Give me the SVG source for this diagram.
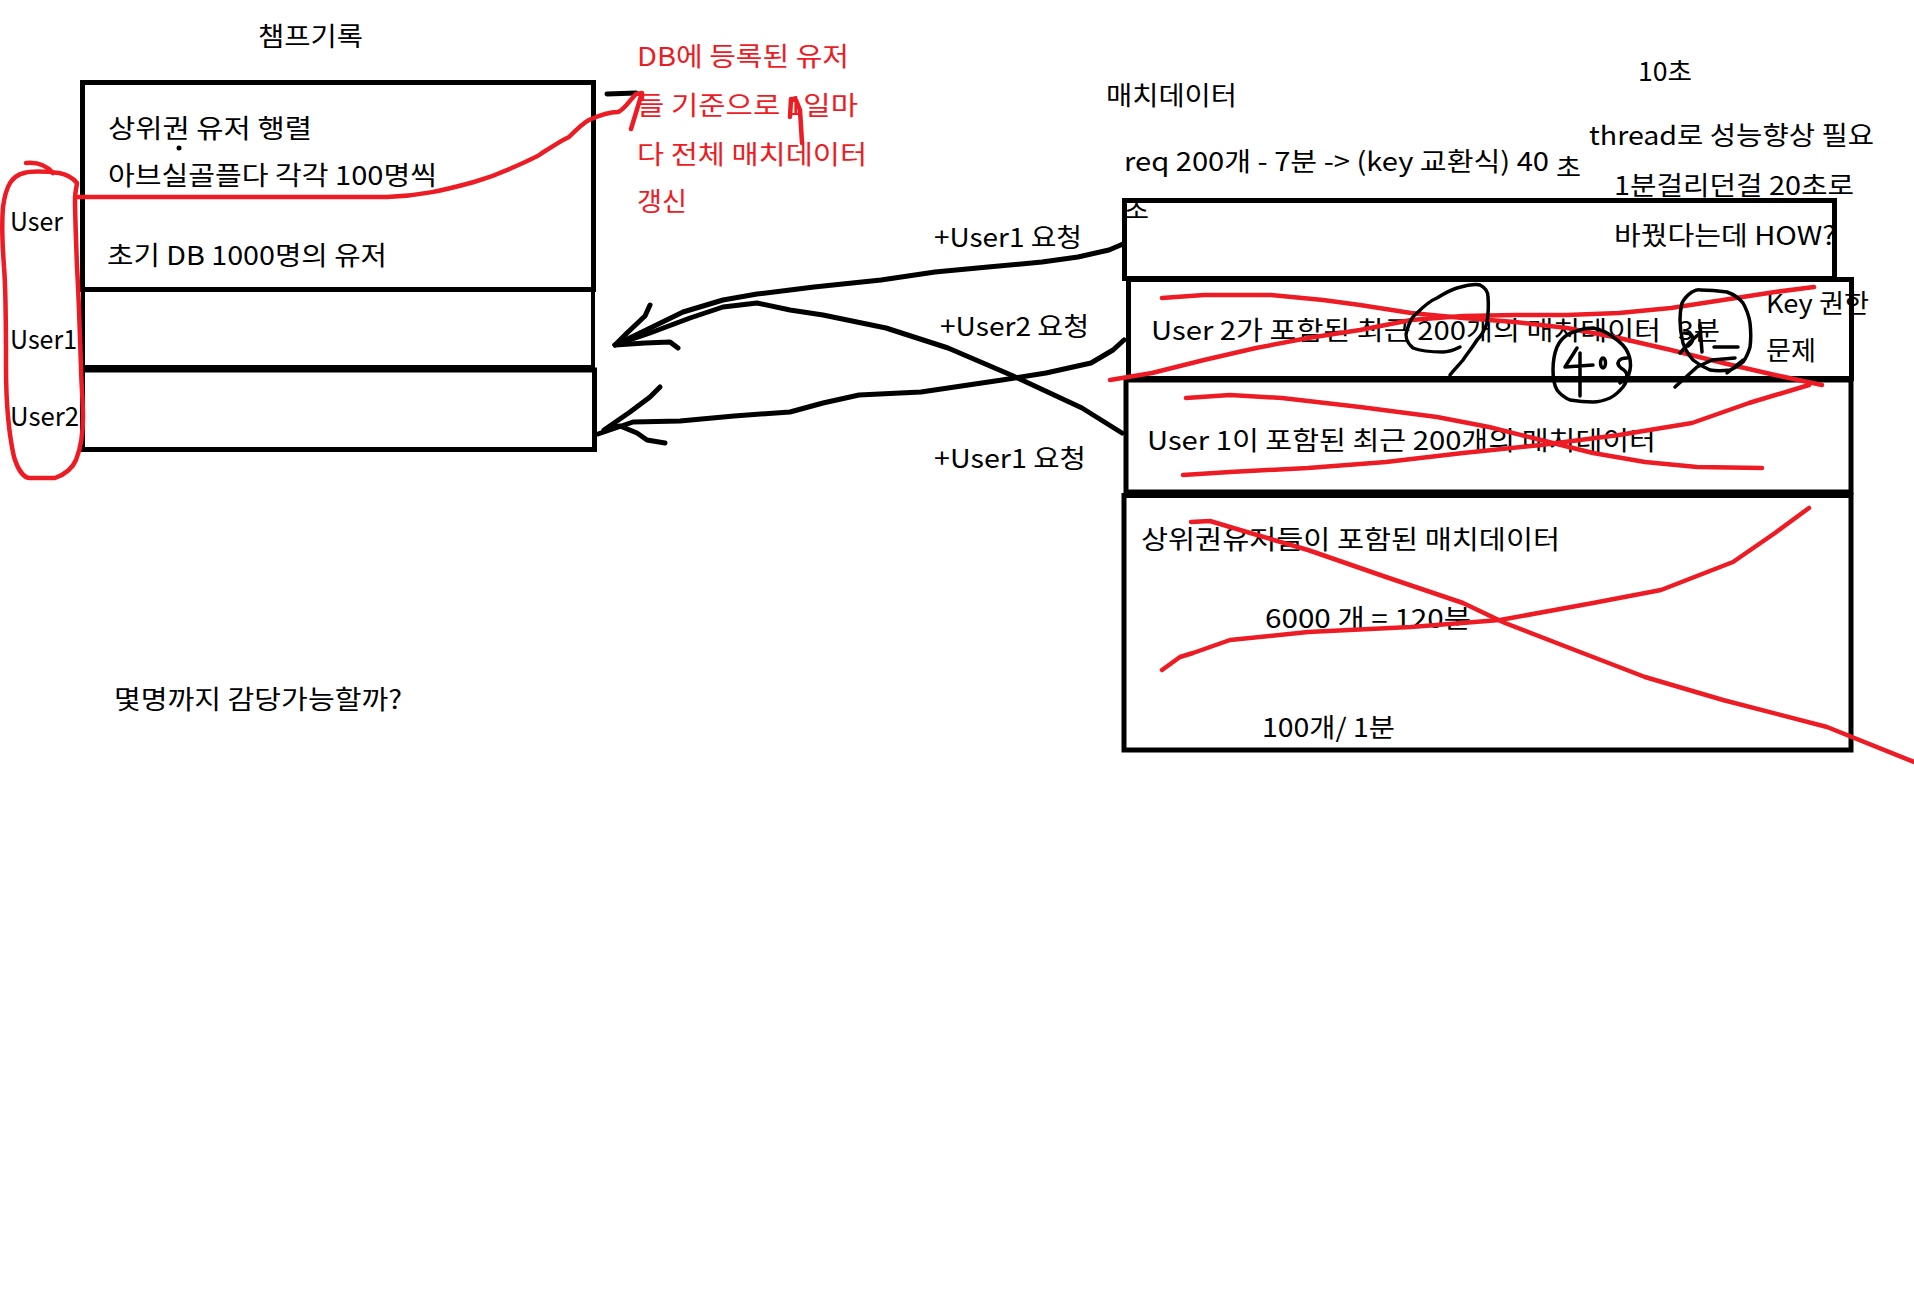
<svg xmlns="http://www.w3.org/2000/svg" width="1914" height="1290" viewBox="0 0 1914 1290">
  <style>
    .t { font-family: "Noto Sans CJK KR", "Noto Sans", "Liberation Sans", sans-serif; font-size: 26px; fill: #000; }
    .r { fill: #ed1c24; }
    .box { fill: none; stroke: #000; stroke-width: 5; }
    .ink { fill: none; stroke: #000; stroke-width: 5; stroke-linecap: round; stroke-linejoin: round; }
    .thin { fill: none; stroke: #000; stroke-width: 3.5; stroke-linecap: round; stroke-linejoin: round; }
    .pen { fill: none; stroke: #ed1c24; stroke-width: 4.5; stroke-linecap: round; stroke-linejoin: round; }
  </style>
  <rect width="1914" height="1290" fill="#fff"/>

  <!-- free notes -->
  <g id="notes">
    <text class="t" x="258" y="46" textLength="105" lengthAdjust="spacingAndGlyphs">챔프기록</text>
    <text class="t r" x="637" y="66" textLength="212" lengthAdjust="spacingAndGlyphs">DB에 등록된 유저</text>
    <text class="t r" x="637" y="115" textLength="221" lengthAdjust="spacingAndGlyphs">들 기준으로 1일마</text>
    <text class="t r" x="637" y="164" textLength="230" lengthAdjust="spacingAndGlyphs">다 전체 매치데이터</text>
    <text class="t r" x="637" y="211" textLength="50" lengthAdjust="spacingAndGlyphs">갱신</text>
    <text class="t" x="1106" y="105" textLength="131" lengthAdjust="spacingAndGlyphs">매치데이터</text>
    <text class="t" x="1124" y="171" textLength="425" lengthAdjust="spacingAndGlyphs">req 200개 - 7분 -&gt; (key 교환식) 40</text>
    <text class="t" x="1556" y="177" textLength="25" lengthAdjust="spacingAndGlyphs">초</text>
    <text class="t" x="1124" y="219" textLength="25" lengthAdjust="spacingAndGlyphs">초</text>
    <text class="t" x="1638" y="81" textLength="54" lengthAdjust="spacingAndGlyphs">10초</text>
    <text class="t" x="1589" y="145" textLength="285" lengthAdjust="spacingAndGlyphs">thread로 성능향상 필요</text>
    <text class="t" x="1614" y="195" textLength="240" lengthAdjust="spacingAndGlyphs">1분걸리던걸 20초로</text>
    <text class="t" x="1614" y="245" textLength="222" lengthAdjust="spacingAndGlyphs">바꿨다는데 HOW?</text>
    <text class="t" x="114" y="709" textLength="288" lengthAdjust="spacingAndGlyphs">몇명까지 감당가능할까?</text>
  </g>

  <!-- user labels beside the record table -->
  <g id="user-labels">
    <text class="t" x="10" y="231" textLength="53" lengthAdjust="spacingAndGlyphs">User</text>
    <text class="t" x="10" y="349" textLength="67" lengthAdjust="spacingAndGlyphs">User1</text>
    <text class="t" x="10" y="426" textLength="69" lengthAdjust="spacingAndGlyphs">User2</text>
  </g>

  <!-- champion record table -->
  <g id="champ-records">
    <rect class="box" x="82.5" y="82.5" width="511" height="207"/>
    <text class="t" x="108" y="138" textLength="204" lengthAdjust="spacingAndGlyphs">상위권 유저 행렬</text>
    <text class="t" x="108" y="185" textLength="329" lengthAdjust="spacingAndGlyphs">아브실골플다 각각 100명씩</text>
    <circle cx="179" cy="148" r="2.5" fill="#000"/>
    <text class="t" x="107" y="265" textLength="280" lengthAdjust="spacingAndGlyphs">초기 DB 1000명의 유저</text>
  </g>
  <g id="champ-row-user1">
    <rect x="83" y="290" width="510" height="77" fill="none" stroke="#000" stroke-width="4"/>
  </g>
  <g id="champ-row-user2">
    <rect class="box" x="82.5" y="370" width="512" height="79.5"/>
  </g>

  <!-- match data rows -->
  <g id="match-top">
    <rect class="box" x="1124.5" y="200.5" width="710" height="78"/>
  </g>
  <g id="match-user2">
    <rect class="box" x="1128.5" y="279.5" width="723" height="99"/>
    <text class="t" x="1151" y="340" textLength="510" lengthAdjust="spacingAndGlyphs">User 2가 포함된 최근 200개의 매치데이터</text>
    <text class="t" x="1678" y="340" textLength="42" lengthAdjust="spacingAndGlyphs">3분</text>
    <text class="t" x="1766" y="313" textLength="103" lengthAdjust="spacingAndGlyphs">Key 권한</text>
    <text class="t" x="1766" y="360" textLength="50" lengthAdjust="spacingAndGlyphs">문제</text>
  </g>
  <g id="match-user1">
    <rect class="box" x="1126" y="380" width="725" height="112"/>
    <text class="t" x="1147" y="450" textLength="509" lengthAdjust="spacingAndGlyphs">User 1이 포함된 최근 200개의 매치데이터</text>
  </g>
  <g id="match-top-users">
    <rect class="box" x="1124" y="495.5" width="727" height="254.5"/>
    <text class="t" x="1141" y="549" textLength="419" lengthAdjust="spacingAndGlyphs">상위권유저들이 포함된 매치데이터</text>
    <text class="t" x="1265" y="628" textLength="206" lengthAdjust="spacingAndGlyphs">6000 개 = 120분</text>
    <text class="t" x="1262" y="737" textLength="133" lengthAdjust="spacingAndGlyphs">100개/ 1분</text>
  </g>

  <!-- request arrows from match data back to the record rows -->
  <g id="connectors">
    <path class="ink" d="M1123,244 L1109,250 L1078,257 L1042,262 L988,267 L935,272 L881,280 L814,287 L790,290 L757,294 L723,300 L683,312 L640,333 L615,345"/>
    <path class="ink" d="M1122,433 L1082,408 L1011,375 L948,348 L886,328 L823,315 L790,310 L757,303 L723,307 L690,318 L650,333 L615,345"/>
    <path class="ink" d="M650,305 L645,316 L627,333 L615,345 L645,343 L670,342 L678,348"/>
    <path class="ink" d="M1124,340 L1113,350 L1091,363 L1046,373 L1002,380 L921,392 L859,395 L823,403 L790,412 L734,416 L680,421 L633,422 L598,434"/>
    <path class="ink" d="M660,387 L650,397 L630,412 L604,430 L620,426 L637,433 L647,440 L665,443"/>
    <path class="ink" d="M607,94 L636,93"/>
    <text class="t" x="934" y="247" textLength="148" lengthAdjust="spacingAndGlyphs">+User1 요청</text>
    <text class="t" x="940" y="336" textLength="149" lengthAdjust="spacingAndGlyphs">+User2 요청</text>
    <text class="t" x="934" y="468" textLength="152" lengthAdjust="spacingAndGlyphs">+User1 요청</text>
  </g>

  <!-- red pen marks -->
  <g id="red-marks">
    <path class="pen" d="M26,163 C36,162 46,165 53,173"/>
    <path class="pen" d="M59,173 C45,171 30,171 24,173 C12,176 6,185 3,207 C1,230 3,250 4,267 C6,290 6,330 6,367 C6,400 8,430 14,457 C18,470 24,478 30,478 L55,478 C66,474 73,467 76,460 C82,445 83,430 83,417 C83,400 81,380 81,367 C80,340 79,300 77,267 C76,240 75,210 75,200 C75,190 77,186 77,183 C72,177 65,174 59,173"/>
    <path class="pen" d="M75,197 L387,197 C420,196 445,190 474,182 C495,176 505,171 514,167 C530,160 540,155 542,153 C555,145 562,140 569,137 C578,128 583,123 589,120 C600,115 612,112 618,112 C624,110 630,100 636,94 L642,93 L631,129"/>
    <path class="pen" d="M790,117 L791,99 L796,100 L800,110 L802,143"/>
    <path class="pen" d="M1162,298 L1204,295 L1271,295 L1323,300 L1360,305 L1411,313 L1463,318 L1515,322 L1567,328 L1619,338 L1671,350 L1723,363 L1775,375 L1822,385"/>
    <path class="pen" d="M1110,380 L1152,373 L1204,360 L1256,348 L1308,338 L1360,330 L1411,320 L1463,316 L1515,315 L1567,315 L1619,313 L1671,308 L1723,300 L1775,292 L1814,287"/>
    <path class="pen" d="M1186,398 L1230,395 L1282,398 L1360,407 L1437,417 L1489,427 L1541,440 L1593,453 L1645,462 L1697,467 L1762,468"/>
    <path class="pen" d="M1183,475 L1230,472 L1308,468 L1386,462 L1463,453 L1541,445 L1619,435 L1692,423 L1749,403 L1809,385"/>
    <path class="pen" d="M1191,522 L1210,521 L1230,527 L1308,550 L1386,577 L1463,603 L1505,623 L1567,647 L1645,677 L1723,700 L1827,727 L1914,762"/>
    <path class="pen" d="M1162,670 L1180,657 L1193,653 L1230,640 L1308,632 L1411,627 L1500,620 L1593,603 L1661,590 L1733,562 L1775,533 L1809,508"/>
  </g>

  <!-- black pen marks -->
  <g id="black-marks">
    <path class="thin" d="M1460,347 C1450,352 1443,352 1443,352 C1430,352 1418,350 1413,348 C1406,342 1405,335 1407,330 C1410,320 1414,315 1417,313 C1425,305 1432,300 1437,298 C1445,293 1450,290 1457,288 C1468,285 1476,284 1480,285 C1486,288 1488,292 1488,297 C1489,308 1488,316 1487,323 C1484,332 1481,336 1477,340 C1472,348 1467,354 1463,360 C1458,366 1454,370 1450,375"/>
    <path class="thin" d="M1580,330 C1585,328 1590,328 1593,328 C1603,330 1608,333 1613,337 C1622,343 1626,348 1628,353 C1631,360 1631,365 1630,370 C1628,378 1626,383 1623,387 C1618,393 1614,396 1610,398 C1603,401 1598,402 1593,402 C1584,402 1576,401 1570,400 C1563,397 1560,394 1557,390 C1553,383 1553,376 1553,370 C1553,360 1555,352 1557,347 C1560,340 1564,337 1567,335 C1572,332 1576,331 1580,330"/>
    <path class="thin" d="M1577,348 L1565,367 L1593,365 M1580,353 L1580,396"/>
    <ellipse class="thin" cx="1603" cy="363" rx="2.5" ry="5"/>
    <path class="thin" d="M1627,358 C1619,358 1615,363 1621,368 C1628,372 1630,378 1620,383"/>
    <path class="thin" d="M1692,292 C1698,289 1700,290 1700,290 C1712,290 1720,291 1727,292 C1735,295 1740,299 1743,303 C1747,310 1749,316 1750,323 C1751,332 1751,340 1750,347 C1748,354 1746,358 1743,362 C1738,366 1734,369 1730,370 C1722,371 1716,371 1710,370 C1703,367 1698,364 1693,360 C1688,354 1685,349 1683,343 C1681,335 1680,327 1680,320 C1680,313 1681,307 1682,303 C1685,297 1689,294 1692,292"/>
    <path class="thin" d="M1743,360 L1727,373"/>
    <path class="thin" d="M1680,353 L1690,342 L1700,333 M1684,333 C1694,333 1696,340 1688,346"/>
    <path class="thin" d="M1675,387 L1686,377 L1697,367 L1712,360 L1735,358"/>
    <path class="thin" d="M1714,347 L1738,347 M1700,325 L1702,352"/>
  </g>
</svg>
